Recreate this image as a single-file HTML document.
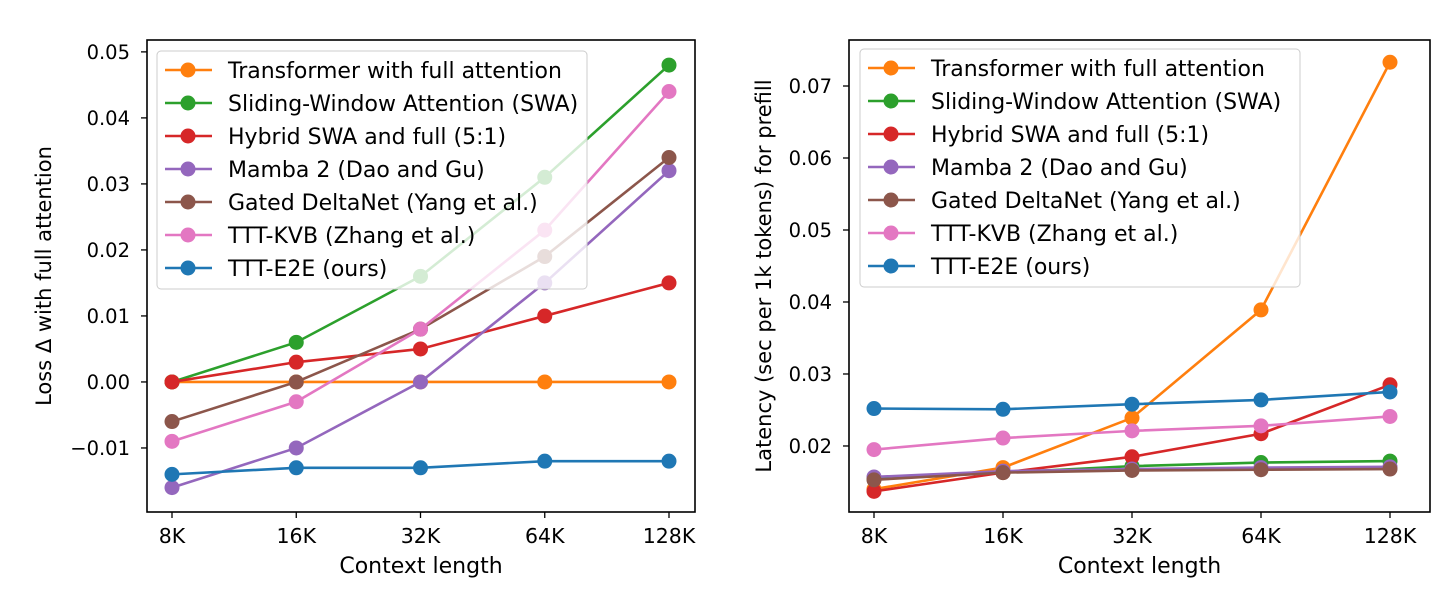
<!DOCTYPE html>
<html><head><meta charset="utf-8"><style>
body{margin:0;background:#fff;}
svg{display:block;font-family:"DejaVu Sans","Liberation Sans",sans-serif;}
</style></head><body>
<svg id="fig" width="1456" height="615"></svg>
<script>
const categories=["8K","16K","32K","64K","128K"];
const seriesNames=["Transformer with full attention","Sliding-Window Attention (SWA)","Hybrid SWA and full (5:1)","Mamba 2 (Dao and Gu)","Gated DeltaNet (Yang et al.)","TTT-KVB (Zhang et al.)","TTT-E2E (ours)"];
const seriesColors=["#ff7f0e","#2ca02c","#d62728","#9467bd","#8c564b","#e377c2","#1f77b4"];
const lossTransformer=[0,0,0,0,0];
const lossSWA=[0,0.006,0.016,0.031,0.048];
const lossHybrid=[0,0.003,0.005,0.010,0.015];
const lossMamba=[-0.016,-0.010,0,0.015,0.032];
const lossGDN=[-0.006,0,0.008,0.019,0.034];
const lossKVB=[-0.009,-0.003,0.008,0.023,0.044];
const lossE2E=[-0.014,-0.013,-0.013,-0.012,-0.012];
const latTransformer=[0.0140,0.0170,0.0239,0.0389,0.0733];
const latSWA=[0.0155,0.0163,0.0172,0.0177,0.0179];
const latHybrid=[0.0137,0.0163,0.0185,0.0217,0.0285];
const latMamba=[0.0157,0.0165,0.0168,0.0170,0.0171];
const latGDN=[0.0153,0.0163,0.0166,0.0167,0.0168];
const latKVB=[0.0195,0.0211,0.0221,0.0228,0.0241];
const latE2E=[0.0252,0.0251,0.0258,0.0264,0.0275];
const leftTicks=[-0.01,0,0.01,0.02,0.03,0.04,0.05];
const leftTickLabels=["\u22120.01","0.00","0.01","0.02","0.03","0.04","0.05"];
const rightTicks=[0.02,0.03,0.04,0.05,0.06,0.07];
const rightTickLabels=["0.02","0.03","0.04","0.05","0.06","0.07"];

const NS="http://www.w3.org/2000/svg";
const svg=document.getElementById('fig');
function mk(tag,attrs,parent){const e=document.createElementNS(NS,tag);for(const k in attrs)e.setAttribute(k,attrs[k]);(parent||svg).appendChild(e);return e;}

function panel(cfg){
  const g=mk('g',{});
  
  
  const {x0,x1,y0,y1,ymin,ymax}=cfg;
  const xs=i=>cfg.xFirst+i*cfg.xStep;
  const ys=v=>y1-(v-ymin)/(ymax-ymin)*(y1-y0);
  cfg.data.forEach((d,si)=>{
    const sg=mk('g',{},g);
    
    
    const pts=d.map((v,i)=>xs(i)+','+ys(v)).join(' ');
    mk('polyline',{points:pts,fill:'none',stroke:seriesColors[si],'stroke-width':2.6},sg);
    d.forEach((v,i)=>{
      const c=mk('circle',{cx:xs(i),cy:ys(v),r:7.5,fill:seriesColors[si]},sg);
      
      
    });
  });
  const lg=mk('g',{},g);
  
  
  mk('rect',{x:cfg.lx,y:cfg.ly,width:cfg.lw,height:238,rx:4,fill:'#fff','fill-opacity':0.8,stroke:'#ccc','stroke-width':1},lg);
  seriesNames.forEach((n,i)=>{
    const yy=cfg.ly+19+i*33;
    const e=mk('g',{},lg);
    
    
    mk('line',{x1:cfg.lx+8,x2:cfg.lx+55,y1:yy,y2:yy,stroke:seriesColors[i],'stroke-width':2.6},e);
    mk('circle',{cx:cfg.lx+31,cy:yy,r:7.5,fill:seriesColors[i]},e);
    const t=mk('text',{x:cfg.lx+71,y:yy+8,'font-size':22,fill:'#000'},e);t.textContent=n;
  });
  const fr=mk('rect',{x:x0,y:y0,width:x1-x0,height:y1-y0,fill:'none',stroke:'#000','stroke-width':1.6},g);
  
  categories.forEach((c,i)=>{
    mk('line',{x1:xs(i),x2:xs(i),y1:y1,y2:y1+6,stroke:'#000','stroke-width':1.3},g);
    const t=mk('text',{x:xs(i),y:y1+31,'font-size':20.5,'text-anchor':'middle'},g);t.textContent=c;
    
  });
  cfg.ticks.forEach((v,i)=>{
    mk('line',{x1:x0-6,x2:x0,y1:ys(v),y2:ys(v),stroke:'#000','stroke-width':1.3},g);
    const t=mk('text',{x:x0-17,y:ys(v)+7,'font-size':19.5,'text-anchor':'end'},g);t.textContent=cfg.tickLabels[i];
    
  });
  const xt=mk('text',{x:(x0+x1)/2,y:y1+61,'font-size':22,'text-anchor':'middle'},g);xt.textContent='Context length';
  
  const cy=(y0+y1)/2;
  const yt=mk('text',{x:cfg.ytx,y:cy,'font-size':21,'text-anchor':'middle',transform:`rotate(-90 ${cfg.ytx} ${cy})`},g);yt.textContent=cfg.ytitle;
  
}
panel({name:'loss-chart',x0:147,x1:695,y0:40,y1:512,ymin:-0.0197,ymax:0.0518,xFirst:172,xStep:124.25,
  data:[lossTransformer,lossSWA,lossHybrid,lossMamba,lossGDN,lossKVB,lossE2E],ticks:leftTicks,tickLabels:leftTickLabels,
  lx:157,ly:51,lw:430,ytx:51,ytitle:'Loss \u0394 with full attention'});
panel({name:'latency-chart',x0:849,x1:1430,y0:40,y1:512,ymin:0.01083,ymax:0.07639,xFirst:874,xStep:129,
  data:[latTransformer,latSWA,latHybrid,latMamba,latGDN,latKVB,latE2E],ticks:rightTicks,tickLabels:rightTickLabels,
  lx:860,ly:49,lw:440,ytx:771,ytitle:'Latency (sec per 1k tokens) for prefill'});
</script>
</body></html>
